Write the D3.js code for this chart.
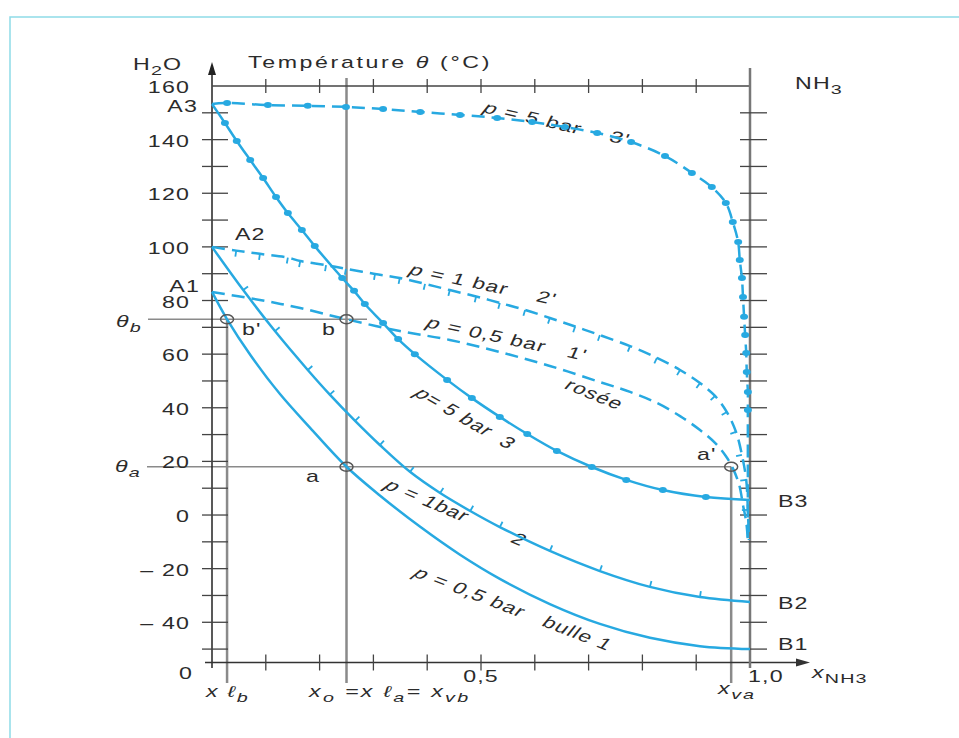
<!DOCTYPE html>
<html>
<head>
<meta charset="utf-8">
<style>
  body { margin: 0; background: #fff; }
  text { font-family: "Liberation Sans", Arial, sans-serif; fill: #2b2b2b; letter-spacing: 0.8px; white-space: pre; }
</style>
</head>
<body>
<svg width="959" height="738"></svg>
<script src="https://d3js.org/d3.v7.min.js"></script>
<script>
var bulle05 = [[0, 83.2], [0.028, 73], [0.071, 59.8], [0.126, 45.2], [0.182, 32.6], [0.25, 18],
  [0.312, 7.3], [0.387, -4.4], [0.461, -14.8], [0.535, -23.8], [0.628, -33.2], [0.721, -40.6],
  [0.814, -45.8], [0.907, -48.9], [1, -50]];
var rosee05 = [[0, 83.2], [0.089, 80.2], [0.164, 77.2], [0.25, 73], [0.349, 68.6], [0.442, 65.3],
  [0.535, 60.8], [0.628, 55.6], [0.721, 49.6], [0.777, 45.9], [0.827, 41.8], [0.87, 36.9],
  [0.907, 31.7], [0.935, 26.9], [0.955, 22], [0.968, 17.5], [0.98, 11.2], [0.987, 3.7],
  [0.993, -2.6], [0.996, -9.3]];
var bulle1 = [[0, 100], [0.058, 83.9], [0.117, 68.6], [0.178, 54.1], [0.219, 44.9], [0.266, 35.1],
  [0.312, 26.1], [0.368, 16.1], [0.424, 8.2], [0.48, 1.5], [0.535, -4.5], [0.628, -13.4],
  [0.721, -20.9], [0.814, -26.8], [0.907, -30.6], [1, -32.4]];
var rosee1 = [[0, 100], [0.045, 98.6], [0.089, 97.4], [0.141, 96], [0.164, 94.7], [0.212, 93.2],
  [0.249, 91.8], [0.303, 89.9], [0.349, 88.4], [0.396, 86.2], [0.442, 83.9], [0.491, 81.5],
  [0.535, 79.1], [0.582, 76.5], [0.628, 73.5], [0.675, 70.3], [0.721, 67.1], [0.777, 63],
  [0.827, 58.6], [0.87, 54.1], [0.907, 49.2], [0.935, 44.4], [0.957, 38.4], [0.974, 31],
  [0.985, 22.4], [0.993, 13.1], [0.996, 1.9], [0.998, -9.3]];
var bulle5 = [[0, 153.3], [0.024, 146.2], [0.046, 139.5], [0.071, 132.4], [0.095, 125.7],
  [0.119, 118.6], [0.141, 112.6], [0.167, 106.3], [0.191, 100.3], [0.242, 88.4], [0.264, 83.6],
  [0.284, 78.7], [0.318, 71.6], [0.346, 65.6], [0.377, 60], [0.437, 50.4], [0.483, 43.6],
  [0.535, 36.6], [0.586, 30.2], [0.641, 23.9], [0.706, 17.9], [0.77, 13.1], [0.838, 9.3],
  [0.918, 6.7], [1, 5.6]];
var rosee5 = [[0, 153.3], [0.028, 153.7], [0.104, 152.9], [0.178, 152.6], [0.249, 152.2], [0.318, 151.4],
  [0.387, 150.3], [0.461, 149.2], [0.53, 148.1], [0.595, 146.6], [0.656, 144.7], [0.716, 142.5],
  [0.779, 139.1], [0.842, 133.9], [0.892, 127.6], [0.929, 122.3], [0.955, 116.4], [0.968, 109.3],
  [0.978, 101.8], [0.981, 95.1], [0.985, 88.4], [0.987, 81.3], [0.989, 73.9], [0.991, 67.1],
  [0.993, 60.4], [0.994, 53.3], [0.996, 45.9], [0.996, 39.2], [0.996, 16.8], [0.996, -9.3]];

var yTicks = d3.range(-50, 151, 10);
var yLabels = [160, 140, 120, 100, 80, 60, 40, 20, 0, -20, -40];
var xTicks = [0.1, 0.2, 0.3, 0.4, 0.5, 0.6, 0.7, 0.8, 0.9];
var xLb = 0.028, x0 = 0.25, xVa = 0.965;   // compositions marquées
var thetaB = 73, thetaA = 18;
// points b', b, a, a'
var marked = [[xLb, thetaB], [x0, thetaB], [x0, thetaA], [xVa, thetaA]];

var svg = d3.select("svg");
var x = d3.scaleLinear().domain([0, 1]).range([212, 750]);
var y = d3.scaleLinear().domain([-55, 160]).range([662.5, 86]);
var SX = 1.45;  // the picture is stretched horizontally
var blue = "#27a9e1", grey = "#8a8a8a";

// light frame
svg.append("path").attr("d", "M10,738V17H959").attr("fill", "none")
  .attr("stroke", "#8edbe8").attr("stroke-width", 1.5);

function seg(x1, y1, x2, y2, col, w) {
  svg.append("line").attr("x1", x1).attr("y1", y1).attr("x2", x2).attr("y2", y2)
    .attr("stroke", col).attr("stroke-width", w);
}

// ---- reference lines ----
seg(x(xLb), y(thetaB), x(xLb), 683, grey, 2.5);
seg(x(x0), 78, x(x0), 683, grey, 2.5);
seg(x(xVa), y(thetaA), x(xVa), 683, grey, 2.5);
seg(148, y(thetaB), 367, y(thetaB), grey, 1.5);
seg(147, y(thetaA), x(xVa), y(thetaA), grey, 1.5);

// ---- axes ----
seg(x(0), 668, x(0), 70, "#222", 1.5);
svg.append("path").attr("d", "M" + x(0) + ",62l-4,13h8z").attr("fill", "#222");
seg(205, y(-55), 800, y(-55), "#333", 1.5);
svg.append("path").attr("d", "M810," + y(-55) + "l-14,-4v8z").attr("fill", "#333");
seg(x(0), y(160), x(1), y(160), "#444", 1.5);
seg(x(1), 68, x(1), 668, "#777", 2.5);

yTicks.forEach(function(t) {
  seg(x(0) - 10, y(t), x(0) + 16, y(t), "#444", 1.3);
  seg(x(1) - 10, y(t), x(1) + 17, y(t), "#444", 1.3);
});
xTicks.forEach(function(t) {
  seg(x(t), y(160) - 7, x(t), y(160) + 7, "#444", 1.3);
  seg(x(t), y(-55) - 8, x(t), y(-55) + 8, "#444", 1.3);
});

// ---- text helper (parts: [string, flags] ; flags i = italic, s = subscript) ----
function txt(px, py, parts, o) {
  o = o || {};
  var rot = o.rot ? Math.atan(SX * Math.tan(o.rot * Math.PI / 180)) * 180 / Math.PI : 0;
  var t = svg.append("text")
    .attr("transform", "translate(" + px + "," + py + ") scale(" + SX + ",1) rotate(" + rot + ")")
    .attr("text-anchor", o.anchor || "start")
    .style("font-size", (o.size || 16) + "px");
  if (o.ls) t.style("letter-spacing", o.ls + "px");
  var shift = 0;
  parts.forEach(function(p) {
    var f = p[1] || "";
    var ts = t.append("tspan").text(p[0]);
    var want = f.indexOf("s") >= 0 ? 5 : 0;
    if (want !== shift) { ts.attr("dy", want - shift); shift = want; }
    if (f.indexOf("i") >= 0) ts.style("font-style", "italic");
    if (want) ts.style("font-size", "0.85em");
  });
  return t;
}

yLabels.forEach(function(v) {
  var s = v < 0 ? "\u2013 " + (-v) : String(v);
  txt(190, y(v) + 7, [[s]], { anchor: "end" });
});
txt(x(0.5), 682, [["0,5"]], { anchor: "middle" });
txt(x(1) - 2, 682, [["1,0"]]);
txt(186, 679, [["0"]], { anchor: "middle" });

txt(133, 70, [["H"], ["2", "s"], ["O"]]);
txt(248, 68, [["Température "], ["\u03b8", "i"], [" (°C)"]], { ls: 1.8 });
txt(795, 89, [["NH"], ["3", "s"]]);
txt(198, 112, [["A3"]], { anchor: "end" });
txt(235, 240, [["A2"]]);
txt(200, 292, [["A1"]], { anchor: "end" });
txt(116, 327, [["\u03b8", "i"], ["b", "is"]]);
txt(115, 472, [["\u03b8", "i"], ["a", "is"]]);
txt(242, 335, [["b'"]]);
txt(322, 335, [["b"]]);
txt(306, 482, [["a"]]);
txt(697, 460, [["a'"]]);
txt(778, 507, [["B3"]]);
txt(778, 609, [["B2"]]);
txt(778, 650, [["B1"]]);

txt(812, 678, [["x", "i"], ["NH", "s"], ["3", "s"]], { size: 16 });
txt(206, 697, [["x \u2113", "i"], ["b", "is"]], { size: 16, ls: 1.2 });
txt(309, 697, [["x", "i"], ["o", "is"], [" =x \u2113", "i"], ["a", "is"], ["= x", "i"], ["vb", "is"]], { size: 16, ls: 1.6 });
txt(718, 694, [["x", "i"], ["va", "is"]], { size: 16, ls: 1.2 });

txt(482, 112, [["p", "i"], [" = 5 bar    3'"]], { rot: 13 });
txt(408, 274, [["p", "i"], [" = 1 bar    2'"]], { rot: 12 });
txt(425, 327, [["p", "i"], [" = 0,5 bar   1'"]], { rot: 12 });
txt(563, 388, [["rosée"]], { rot: 22 });
txt(413, 395, [["p", "i"], ["= 5 bar  3"]], { rot: 30 });
txt(383, 488, [["p", "i"], [" = 1bar       2"]], { rot: 23 });
txt(412, 576, [["p", "i"], [" = 0,5 bar   bulle 1"]], { rot: 21 });

// ---- curves ----
var line = d3.line().x(function(d) { return x(d[0]); }).y(function(d) { return y(d[1]); })
  .curve(d3.curveCatmullRom.alpha(0.5));
function curve(data, dashed) {
  svg.append("path").datum(data).attr("d", line).attr("fill", "none")
    .attr("stroke", blue).attr("stroke-width", 2.5)
    .attr("stroke-dasharray", dashed ? "13,7" : null);
}
curve(bulle05, false);
curve(rosee05, true);
curve(bulle1, false);
curve(rosee1, true);
curve(bulle5, false);
curve(rosee5, true);

// dot markers for p = 5 bar
function dots(data, upto) {
  svg.selectAll(null).data(data.slice(1, upto)).enter().append("ellipse")
    .attr("cx", function(d) { return x(d[0]); }).attr("cy", function(d) { return y(d[1]); })
    .attr("rx", 4).attr("ry", 3).attr("fill", blue);
}
dots(bulle5, bulle5.length - 1);
dots(rosee5, rosee5.length - 2);

// small perpendicular ticks for p = 1 bar
function ticks(data, side) {
  for (var i = 1; i < data.length - 1; i++) {
    var a = data[i - 1], b = data[i + 1];
    var dx = x(b[0]) - x(a[0]), dy = y(b[1]) - y(a[1]);
    var n = Math.sqrt(dx * dx + dy * dy);
    var nx = side * -dy / n, ny = side * dx / n;
    var px = x(data[i][0]), py = y(data[i][1]);
    seg(px, py, px + nx * 6, py + ny * 6, blue, 1.8);
  }
}
ticks(bulle1, -1);
ticks(rosee1, 1);

// open circles b', b, a, a'
svg.selectAll(null).data(marked).enter().append("ellipse")
  .attr("cx", function(d) { return x(d[0]); }).attr("cy", function(d) { return y(d[1]); })
  .attr("rx", 6.5).attr("ry", 4.5).attr("fill", "none")
  .attr("stroke", "#555").attr("stroke-width", 1.5);
</script>
</body>
</html>
